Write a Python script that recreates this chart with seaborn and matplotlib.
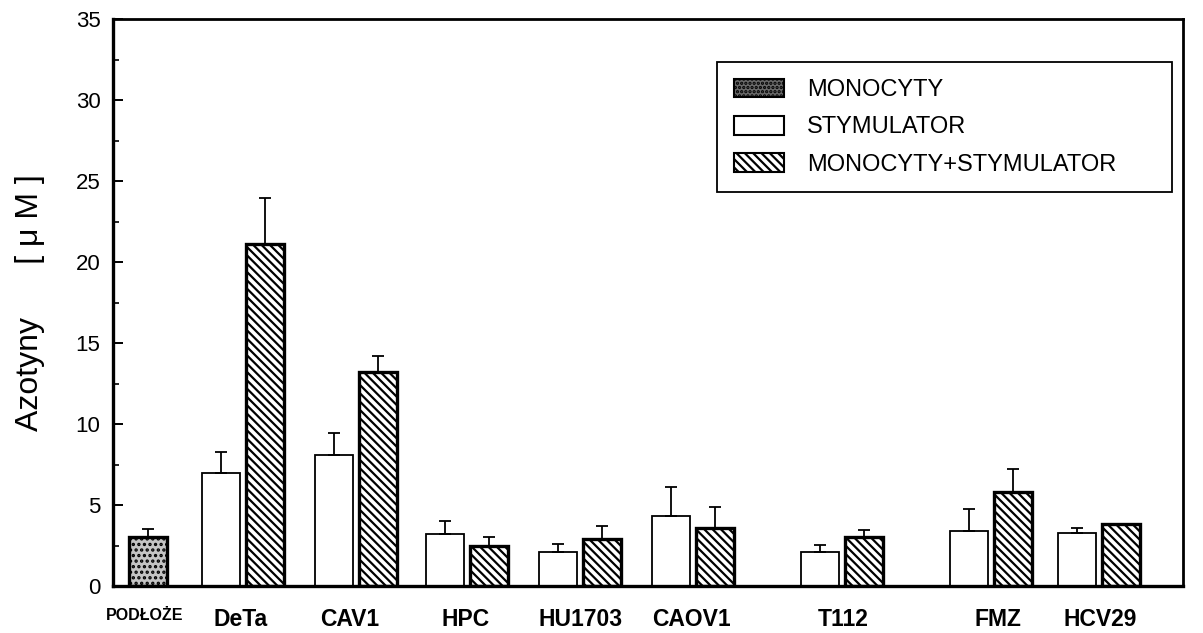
import numpy as np
import pandas as pd
import matplotlib
matplotlib.use("Agg")
import matplotlib.pyplot as plt
from matplotlib.patches import Patch
from matplotlib.ticker import MultipleLocator
import seaborn as sns

# ---------------- data ----------------
categories = ["PODŁOŻE", "DeTa", "CAV1", "HPC", "HU1703", "CAOV1", "T112", "FMZ", "HCV29"]
series = ["MONOCYTY", "STYMULATOR", "MONOCYTY+STYMULATOR"]
monocyty = [3.0]
monocyty_err = [0.5]
stymulator = [7.0, 8.1, 3.2, 2.1, 4.3, 2.1, 3.4, 3.3]
stymulator_err = [1.25, 1.35, 0.8, 0.5, 1.8, 0.45, 1.35, 0.25]
mono_stym = [21.1, 13.2, 2.45, 2.9, 3.6, 3.0, 5.8, 3.8]
mono_stym_err = [2.85, 1.0, 0.55, 0.8, 1.25, 0.45, 1.45, 0.0]
y_ticks = [0, 5, 10, 15, 20, 25, 30, 35]
y_label = "Azotyny      [ μ M ]"

# ---------------- layout ----------------
group_pos = [148, 243, 355.5, 467, 580, 693, 842, 990.5, 1098.5]
label_pos = [145, 241, 350, 466, 581, 691, 843, 998, 1100]
pair_offset = 22
bar_px = 38
x_limits = (113, 1183)

rows = []
rows.append(dict(cat=categories[0], x=group_pos[0], value=monocyty[0],
                 err=monocyty_err[0], series=series[0]))
for i, c in enumerate(categories[1:]):
    p = group_pos[i + 1]
    rows.append(dict(cat=c, x=p - pair_offset, value=stymulator[i],
                     err=stymulator_err[i], series=series[1]))
    rows.append(dict(cat=c, x=p + pair_offset, value=mono_stym[i],
                     err=mono_stym_err[i], series=series[2]))
df = pd.DataFrame(rows)

sns.set_theme(style="ticks")
plt.rcParams["font.family"] = ["Liberation Sans", "DejaVu Sans"]
plt.rcParams["hatch.linewidth"] = 1.6
for key in ["text.color", "axes.labelcolor", "xtick.color", "ytick.color",
            "xtick.labelcolor", "ytick.labelcolor"]:
    plt.rcParams[key] = "black"

fig = plt.figure(figsize=(12.03, 6.33), dpi=100)
ax = fig.add_axes([113 / 1203, (633 - 586) / 633, (1183 - 113) / 1203, (586 - 19) / 633])

palette = {series[0]: "#b0b0b0", series[1]: "#ffffff", series[2]: "#ffffff"}
sns.barplot(data=df, x="x", y="value", hue="series", hue_order=series,
            palette=palette, native_scale=True, dodge=False,
            width=bar_px / (2 * pair_offset), saturation=1, errorbar=None,
            legend=False, edgecolor="black", ax=ax)

hatch_diag = "\\\\\\\\"
xs = df["x"].to_numpy()
for patch in ax.patches:
    cx = patch.get_x() + patch.get_width() / 2
    idx = int(np.argmin(np.abs(xs - cx)))
    s = df["series"].iloc[idx]
    patch.set_edgecolor("black")
    if s == series[0]:
        patch.set_facecolor("#c4c4c4")
        patch.set_hatch("...")
        patch.set_linewidth(2.4)
    elif s == series[1]:
        patch.set_facecolor("white")
        patch.set_linewidth(1.3)
    else:
        patch.set_facecolor("white")
        patch.set_hatch(hatch_diag)
        patch.set_linewidth(2.4)

ax.errorbar(df["x"], df["value"], yerr=[np.zeros(len(df)), df["err"]],
            fmt="none", ecolor="black", elinewidth=1.3, capsize=4,
            capthick=1.3, zorder=5)

ax.set_xlim(*x_limits)
ax.set_ylim(0, 35)
ax.set_yticks(y_ticks)
ax.yaxis.set_minor_locator(MultipleLocator(2.5))
ax.tick_params(axis="y", which="major", direction="in", length=7, width=1.4,
               pad=9, labelsize=16, colors="black")
ax.tick_params(axis="y", which="minor", direction="in", length=4, width=1.2,
               colors="black")
ax.set_xticks(label_pos)
ax.set_xticklabels(categories)
ax.tick_params(axis="x", which="both", length=0, pad=16, labelsize=16.5,
               labelcolor="black")
for t in ax.get_xticklabels():
    t.set_fontweight("bold")
    if t.get_text() == categories[0]:
        t.set_fontsize(11.5)
ax.set_xlabel("")
ax.set_ylabel(y_label, fontsize=23, labelpad=22, color="black")

for side in ["left", "bottom", "top", "right"]:
    ax.spines[side].set_visible(True)
    ax.spines[side].set_color("black")
ax.spines["left"].set_linewidth(2.4)
ax.spines["bottom"].set_linewidth(2.4)
ax.spines["top"].set_linewidth(2.0)
ax.spines["right"].set_linewidth(2.0)

handles = [
    Patch(facecolor="#6a6a6a", edgecolor="black", hatch="....", linewidth=1.5, label=series[0]),
    Patch(facecolor="white", edgecolor="black", linewidth=1.5, label=series[1]),
    Patch(facecolor="white", edgecolor="black", hatch=hatch_diag, linewidth=1.5, label=series[2]),
]
leg = ax.legend(handles=handles, loc="upper left",
                bbox_to_anchor=(0.5645, 0.70, 0.4255, 0.224), mode="expand",
                fontsize=17, frameon=True, fancybox=False, edgecolor="black",
                handlelength=2.15, handleheight=0.85, handletextpad=0.95,
                labelspacing=0.62, borderpad=0.7, borderaxespad=0,
                labelcolor="black")
leg.get_frame().set_linewidth(1.3)
leg.get_frame().set_alpha(1)

fig.savefig("out.png", dpi=100)
